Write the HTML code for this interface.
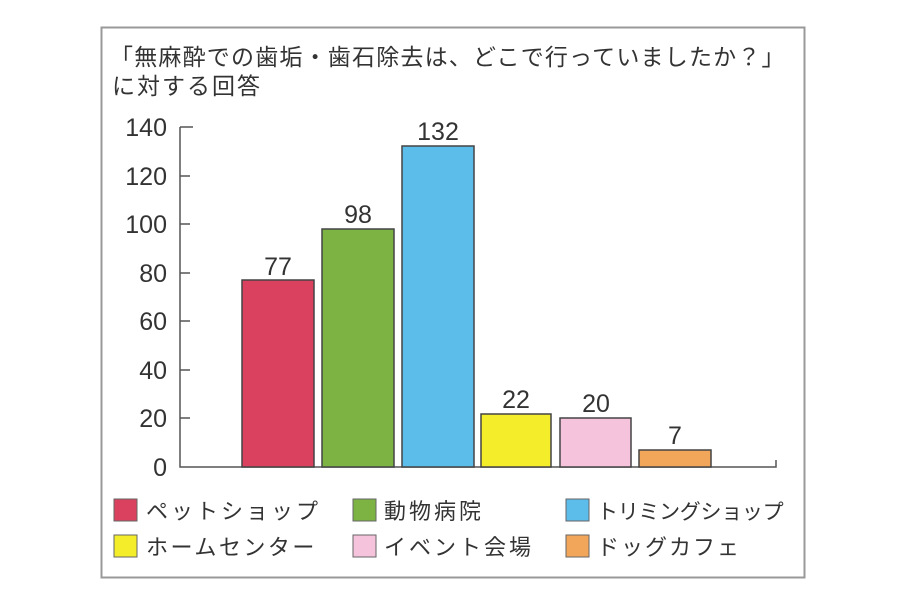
<!DOCTYPE html>
<html><head><meta charset="utf-8"><style>
body{margin:0;background:#fff;}
svg text{font-family:"Liberation Sans","Noto Sans CJK JP",sans-serif;fill:#333;}
</style></head><body>
<svg width="900" height="603" viewBox="0 0 900 603" xmlns="http://www.w3.org/2000/svg">
<rect x="0" y="0" width="900" height="603" fill="#fff"/>
<rect x="101.5" y="27.5" width="703" height="550" fill="#fff" stroke="#999" stroke-width="2"/>
<text x="110" y="65" font-size="23" letter-spacing="1.2">「無麻酔での歯垢・歯石除去は、どこで行っていましたか？」</text>
<text x="112" y="94" font-size="23" letter-spacing="2">に対する回答</text>
<g font-size="25" text-anchor="end">
<text x="167" y="136">140</text>
<text x="167" y="185">120</text>
<text x="167" y="233">100</text>
<text x="167" y="282">80</text>
<text x="167" y="330">60</text>
<text x="167" y="379">40</text>
<text x="167" y="427">20</text>
<text x="167" y="476">0</text>
</g>
<g stroke="#555" stroke-width="1.5" fill="none">
<path d="M180 127 V467 H776 V460"/>
<path d="M180 127 H193 M180 176 H190 M180 224 H190 M180 273 H190 M180 321 H190 M180 370 H190 M180 418 H190"/>
</g>
<g stroke="#444" stroke-width="1.5">
<rect x="242" y="280" width="72" height="187" fill="#d9415f"/>
<rect x="322" y="229" width="72" height="238" fill="#7cb342"/>
<rect x="402" y="146" width="72" height="321" fill="#5cbcea"/>
<rect x="481" y="414" width="70" height="53" fill="#f4ee2a"/>
<rect x="560" y="418" width="71" height="49" fill="#f6c3dc"/>
<rect x="639" y="450" width="72" height="17" fill="#f2a65a"/>
</g>
<g font-size="25" text-anchor="middle">
<text x="278" y="275">77</text>
<text x="358" y="223">98</text>
<text x="438" y="140">132</text>
<text x="516" y="408">22</text>
<text x="596" y="412">20</text>
<text x="675" y="444">7</text>
</g>
<g stroke="#666" stroke-width="1">
<rect x="114" y="499" width="23" height="22" fill="#d9415f"/>
<rect x="353" y="499" width="23" height="22" fill="#7cb342"/>
<rect x="566" y="499" width="23" height="22" fill="#5cbcea"/>
<rect x="114" y="535" width="23" height="22" fill="#f4ee2a"/>
<rect x="353" y="535" width="23" height="22" fill="#f6c3dc"/>
<rect x="566" y="535" width="23" height="22" fill="#f2a65a"/>
</g>
<g font-size="22">
<text x="146" y="519" letter-spacing="3">ペットショップ</text>
<text x="384" y="519" letter-spacing="3">動物病院</text>
<text x="597" y="519" font-size="21" letter-spacing="-0.3">トリミングショップ</text>
<text x="146" y="555" letter-spacing="2.5">ホームセンター</text>
<text x="384" y="555" letter-spacing="3">イベント会場</text>
<text x="597" y="555" letter-spacing="2">ドッグカフェ</text>
</g>
</svg>
</body></html>
